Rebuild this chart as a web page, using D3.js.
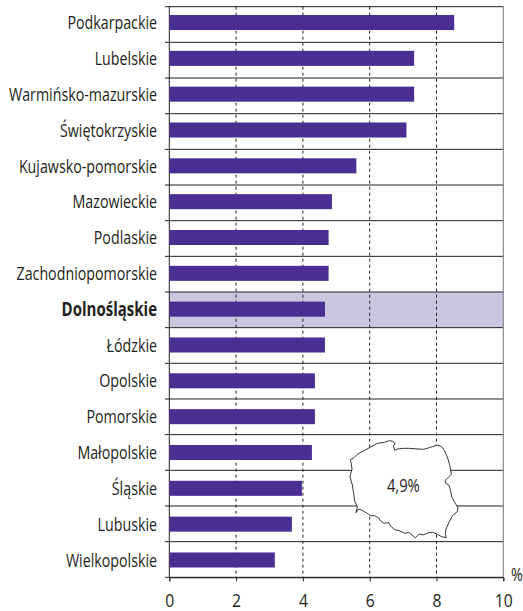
<!DOCTYPE html>
<html>
<head>
<meta charset="utf-8">
<script src="https://cdn.jsdelivr.net/npm/d3@7"></script>
<style>
  html, body { margin: 0; padding: 0; background: #fff; }
  text { font-family: "Open Sans", sans-serif; fill: #231f20; }
</style>
</head>
<body>
<svg id="chart" width="523" height="611"></svg>
<script>
const regions = ["Podkarpackie", "Lubelskie", "Warmińsko-mazurskie", "Świętokrzyskie", "Kujawsko-pomorskie",
  "Mazowieckie", "Podlaskie", "Zachodniopomorskie", "Dolnośląskie", "Łódzkie", "Opolskie", "Pomorskie",
  "Małopolskie", "Śląskie", "Lubuskie", "Wielkopolskie"];
const rates = [8.53, 7.33, 7.33, 7.1, 5.6, 4.87, 4.77, 4.77, 4.66, 4.66, 4.36, 4.36, 4.27, 3.97, 3.67, 3.16];
const xTicks = [0, 2, 4, 6, 8, 10];
const highlighted = "Dolnośląskie";
const nationalLabel = "4,9%";
// outline of Poland (own 390x375 units)
const polandOutline = [[158,49],[166,56],[160,62],[164,76],[172,72],[190,70],[205,70],[222,71],[250,73],[272,67],[292,60],[305,65],[314,78],
  [320,92],[325,105],[331,128],[334,148],[326,156],[316,166],[316,174],[327,181],[331,195],[335,215],[344,232],[354,248],[352,260],[338,271],
  [328,290],[318,312],[316,326],[319,338],[305,335],[292,328],[278,322],[262,324],[250,330],[238,327],[226,338],[216,330],[206,322],[194,325],
  [178,317],[164,314],[152,303],[146,293],[132,295],[122,288],[116,279],[104,272],[92,272],[80,264],[66,256],[56,252],[48,263],[52,246],[44,228],
  [41,205],[37,180],[30,155],[36,132],[33,112],[31,104],[42,98],[52,88],[74,76],[92,66],[112,55],[134,52],[148,47]];

const svg = d3.select("#chart");
const x = d3.scaleLinear().domain([0, 10]).range([169.3, 503.3]);
// rows between the rules, and a slightly different step for the bars themselves
const rowY = d3.scaleBand().domain(regions).range([6.7, 577.3]);
const barY = d3.scaleBand().domain(regions).range([4.6, 577.9]).paddingInner(0.58).paddingOuter(0.29);

// no condensed face is installed, so text gets squeezed horizontally
const squeeze = 0.75;

// highlighted row
svg.append("rect")
  .attr("x", x(0))
  .attr("y", rowY(highlighted))
  .attr("width", x(10) - x(0))
  .attr("height", rowY.bandwidth())
  .attr("fill", "#cbc6e0");

// dashed verticals
svg.selectAll(".grid")
  .data(xTicks.slice(1, -1))
  .enter().append("line")
  .attr("class", "grid")
  .attr("x1", d => x(d)).attr("x2", d => x(d))
  .attr("y1", rowY.range()[0]).attr("y2", rowY.range()[1])
  .attr("stroke", "#231f20")
  .attr("stroke-width", 1)
  .attr("stroke-dasharray", "3,3");

// horizontal rules
const rules = regions.map(d => rowY(d)).concat(rowY.range()[1]);
svg.selectAll(".rule")
  .data(rules)
  .enter().append("line")
  .attr("class", "rule")
  .attr("x1", 165).attr("x2", x(10))
  .attr("y1", d => d).attr("y2", d => d)
  .attr("stroke", "#231f20")
  .attr("stroke-width", 1);

// right edge and left axis
svg.append("line")
  .attr("x1", x(10)).attr("x2", x(10))
  .attr("y1", rowY.range()[0]).attr("y2", rowY.range()[1])
  .attr("stroke", "#8a8a8a").attr("stroke-width", 1.2);
svg.append("line")
  .attr("x1", x(0)).attr("x2", x(0))
  .attr("y1", rowY.range()[0]).attr("y2", rowY.range()[1])
  .attr("stroke", "#231f20").attr("stroke-width", 1);

svg.selectAll(".bar")
  .data(regions)
  .enter().append("rect")
  .attr("class", "bar")
  .attr("x", x(0))
  .attr("y", d => barY(d))
  .attr("width", (d, i) => x(rates[i]) - x(0))
  .attr("height", barY.bandwidth())
  .attr("fill", "#4a2f92");

svg.selectAll(".label")
  .data(regions)
  .enter().append("text")
  .attr("class", "label")
  .attr("transform", d => `translate(157,${barY(d) + barY.bandwidth() / 2}) scale(${d === highlighted ? 0.79 : squeeze},1)`)
  .attr("dy", "0.35em")
  .attr("text-anchor", "end")
  .attr("font-size", 19)
  .attr("font-weight", d => d === highlighted ? "bold" : "normal")
  .text(d => d);

// x axis
const xAxisG = svg.append("g")
  .attr("transform", `translate(0,${rowY.range()[1]})`)
  .call(d3.axisBottom(x).tickValues(xTicks).tickSize(4).tickPadding(12.5).tickFormat(d3.format("d")));
xAxisG.select(".domain").attr("stroke", "#231f20");
xAxisG.selectAll(".tick line").attr("stroke", "#231f20");
xAxisG.selectAll(".tick text")
  .attr("font-size", 18.5)
  .attr("font-family", "Lato, sans-serif")
  .attr("transform", "scale(0.85,1)");

svg.append("text")
  .attr("transform", `translate(517,581) scale(${squeeze},1)`)
  .attr("text-anchor", "middle")
  .attr("font-size", 19)
  .text("%");

// inset map
const mapX = d3.scaleLinear().domain([0, 390]).range([340, 470]);
const mapY = d3.scaleLinear().domain([0, 375]).range([425, 550]);
const mapLine = d3.line().x(d => mapX(d[0])).y(d => mapY(d[1])).curve(d3.curveLinearClosed);
svg.append("path")
  .attr("d", mapLine(polandOutline))
  .attr("fill", "#fff")
  .attr("stroke", "#231f20")
  .attr("stroke-width", 0.9);
svg.append("text")
  .attr("transform", `translate(${mapX(190)},${mapY(183)}) scale(0.82,1)`)
  .attr("dy", "0.35em")
  .attr("text-anchor", "middle")
  .attr("font-size", 18)
  .text(nationalLabel);
</script>
</body>
</html>
